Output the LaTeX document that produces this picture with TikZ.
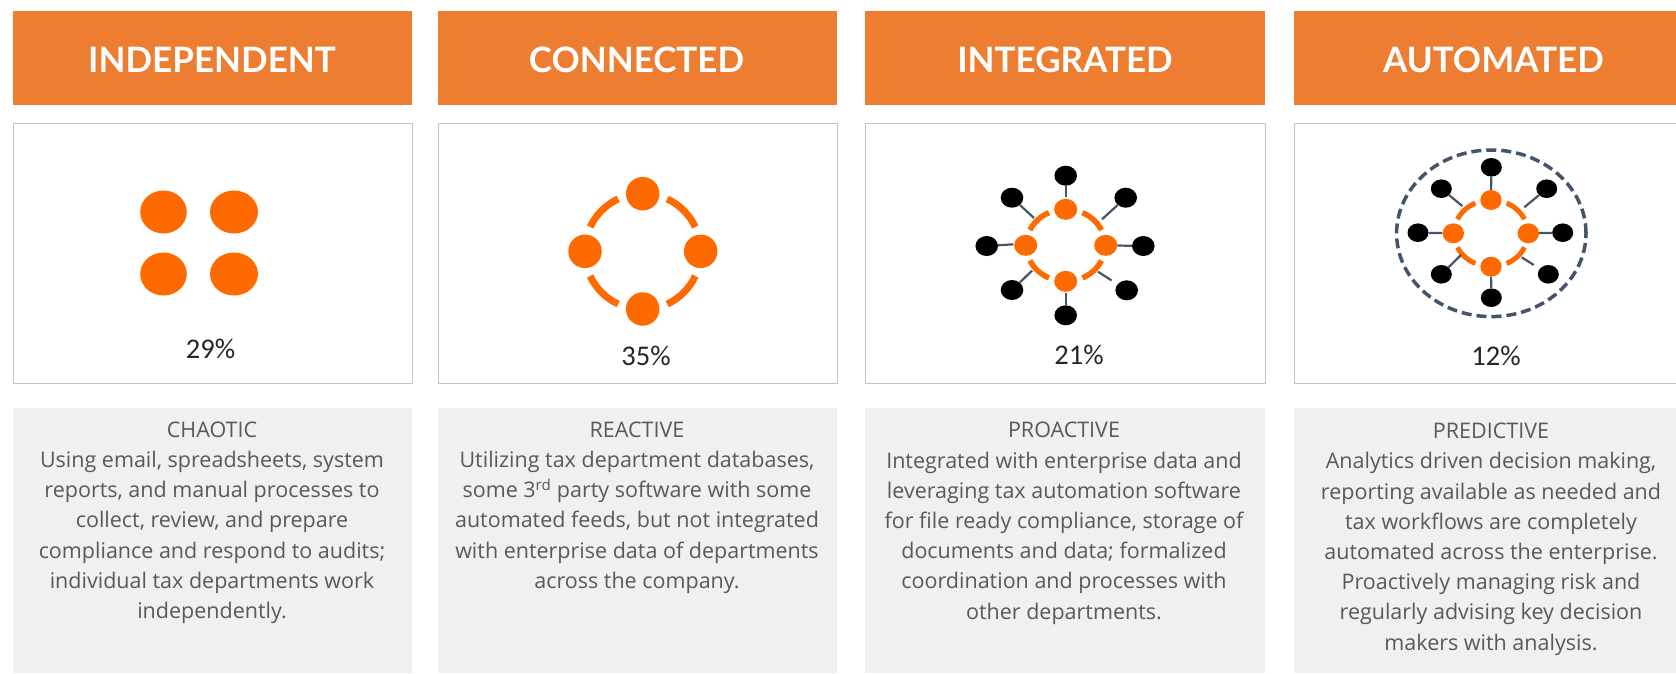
\documentclass[tikz,border=0pt]{standalone}
\usepackage{fontspec}
\setmainfont{Open Sans}
\newfontfamily\headfont{Lato}
\newfontfamily\pctfont{Carlito}
\definecolor{headorange}{HTML}{ED7D31}
\definecolor{iconorange}{HTML}{FF6A00}
\definecolor{panelgray}{HTML}{F0F0F0}
\definecolor{framegray}{HTML}{C4C4C4}
\definecolor{slate}{HTML}{44546A}
\definecolor{bodytext}{HTML}{595959}
\tikzset{
  headbox/.style={fill=headorange,draw=none,minimum height=94pt,inner sep=0pt,anchor=north west},
  headtext/.style={text=white,font=\headfont\bfseries\fontsize{35}{40}\selectfont,inner sep=0pt},
  framebox/.style={draw=framegray,line width=1.2pt,fill=white,minimum height=260pt,inner sep=0pt,anchor=north west},
  panel/.style={fill=panelgray,draw=none,minimum height=265pt,inner sep=0pt,anchor=north west},
  bodytxt/.style={text=bodytext,align=center,font=\fontsize{21.5}{30.2}\selectfont,inner sep=0pt,anchor=north},
  pct/.style={text=black!85,font=\pctfont\fontsize{28.5}{32}\selectfont,inner sep=0pt},
  odot/.style={circle,fill=iconorange,draw=none,inner sep=0pt,transform shape},
  bdot/.style={circle,fill=black,draw=none,inner sep=0pt,transform shape},
  ringthick/.style={draw=iconorange,line width=7pt},
  ringmid/.style={draw=iconorange,line width=5.5pt},
  ringthin/.style={draw=iconorange,line width=5pt},
  spoke/.style={draw=slate,line width=2.2pt},
  outerdash/.style={draw=slate,line width=3.5pt,dash pattern=on 10pt off 5pt},
}
\newcommand{\colframes}[8]{%
  \node[headbox,minimum width=#3pt] (h#1) at (#2,11) {};
  \node[headtext] (ht#1) at (#8,60) {#4};
  \node[framebox,minimum width=#3pt] (f#1) at (#2,123) {};
  \node[panel,minimum width=#3pt] (g#1) at (#2,408) {};
  \node[pct] (p#1) at (#6,#7) {#5};
}
\begin{document}
\begin{tikzpicture}[x=1pt,y=-1pt]
\useasboundingbox (0,0) rectangle (1676,673);
\fill[white] (0,0) rectangle (1676,673);
\colframes{a}{12.5}{399}{INDEPENDENT}{29\%}{210.5}{348.5}{212}
\colframes{b}{437.5}{399.5}{CONNECTED}{35\%}{646}{356}{636.5}
\colframes{c}{865}{400}{INTEGRATED}{21\%}{1079}{355}{1065}
\colframes{d}{1294}{384}{AUTOMATED}{12\%}{1496}{356}{1493.5}

% icon 1
\foreach \n/\x/\y/\r in {a1/163.5/212/23.3,a2/234/212/24,a3/163.5/274/23.3,a4/234/274/24}{
  \coordinate (\n) at (\x,\y);
  \fill[iconorange] (\n) ellipse [x radius=\r pt,y radius=21.5pt];
}

% icon 2
\foreach \n/\x/\y in {b1/642.7/193.7,b2/585/251.3,b3/700.7/251.3,b4/642.7/309}
  \node[odot,minimum size=33.5pt] (\n) at (\x,\y) {};
\foreach \a in {25,115,205,295}
  \draw[ringthick] ({642.7+58*cos(\a)},{251.5-58*sin(\a)}) arc[start angle=-\a,delta angle=-40,radius=58];

% icon 3
\foreach \n/\x/\y in {k1/1065.7/175.7,k2/986.7/246,k3/1143.3/246,k4/1012/197.7,k5/1125.7/197.7,k6/1012/290,k7/1126.7/290.3,k8/1065.7/315.3}
  \node[bdot,minimum size=20pt,xscale=1.13] (\n) at (\x,\y) {};
\foreach \a in {25,115,205,295}
  \draw[ringmid] ({1065.7+39.5*cos(\a)},{245.3-36*sin(\a)}) arc[start angle=-\a,delta angle=-40,x radius=39.5,y radius=36];
\coordinate (cr4) at (1034,218);
\coordinate (cr5) at (1102,219.3);
\coordinate (cr6) at (1032,270.7);
\coordinate (cr7) at (1098,271.7);
\coordinate (ct1) at (1065.7,197.3);
\coordinate (ct2) at (1013.3,244.3);
\coordinate (ct3) at (1116.7,244.3);
\coordinate (ct4) at (1065.7,292.7);
\foreach \n/\x/\y in {c1/1065.7/209.3,c2/1025.7/245.3,c3/1105.7/245.3,c4/1065.7/281.3}
  \node[odot,minimum size=21pt,xscale=1.1] (\n) at (\x,\y) {};
\draw[spoke] (k1) -- (ct1);
\draw[spoke] (k8) -- (ct4);
\draw[spoke] (k2) -- (ct2);
\draw[spoke] (k3) -- (c3);
\draw[spoke] (k4) -- (cr4);
\draw[spoke] (k5) -- (cr5);
\draw[spoke] (k6) -- (cr6);
\draw[spoke,shorten <=7pt] (k7) -- (cr7);

% icon 4
\coordinate (d0) at (1491.3,233.3);
\draw[outerdash] (d0) ellipse [x radius=94.7pt,y radius=83.3pt];
\foreach \n/\x/\y in {m1/1491.3/167.3,m2/1418/232.7,m3/1562.7/232.7,m4/1441.3/188.7,m5/1546.7/188.7,m6/1441.3/274.3,m7/1548.3/274.3,m8/1491.3/297.7}
  \node[bdot,minimum size=18.6pt,xscale=1.13] (\n) at (\x,\y) {};
\foreach \a in {25,115,205,295}
  \draw[ringthin] ({1491+37*cos(\a)},{233.3-33.3*sin(\a)}) arc[start angle=-\a,delta angle=-40,x radius=37,y radius=33.3];
\coordinate (dr4) at (1462.3,206);
\coordinate (dr5) at (1524.3,207.3);
\coordinate (dr6) at (1461,255);
\coordinate (dr7) at (1521.7,257.3);
\foreach \n/\x/\y in {d1/1491/200,d2/1453.3/233.3,d3/1528.3/233.3,d4/1491/266.7}
  \node[odot,minimum size=20pt,xscale=1.07] (\n) at (\x,\y) {};
\draw[spoke] (m1) -- (d1);
\draw[spoke] (m8) -- (d4);
\draw[spoke] (m2) -- (d2);
\draw[spoke] (m3) -- (d3);
\draw[spoke] (m4) -- (dr4);
\draw[spoke] (m5) -- (dr5);
\draw[spoke] (m6) -- (dr6);
\draw[spoke,shorten <=7pt] (m7) -- (dr7);

% body text
\node[bodytxt] (ta) at (212,421.5) {CHAOTIC\\Using email, spreadsheets, system\\reports, and manual processes to\\collect, review, and prepare\\compliance and respond to audits;\\individual tax departments work\\independently.};
\node[bodytxt] (tb) at (637,421.5) {REACTIVE\\Utilizing tax department databases,\\some 3\textsuperscript{rd} party software with some\\automated feeds, but not integrated\\with enterprise data of departments\\across the company.};
\node[bodytxt] (tc) at (1064,422) {PROACTIVE\\Integrated with enterprise data and\\leveraging tax automation software\\for file ready compliance, storage of\\documents and data; formalized\\coordination and processes with\\other departments.};
\node[bodytxt] (td) at (1491,423) {PREDICTIVE\\Analytics driven decision making,\\reporting available as needed and\\tax workflows are completely\\automated across the enterprise.\\Proactively managing risk and\\regularly advising key decision\\makers with analysis.};
\end{tikzpicture}
\end{document}
